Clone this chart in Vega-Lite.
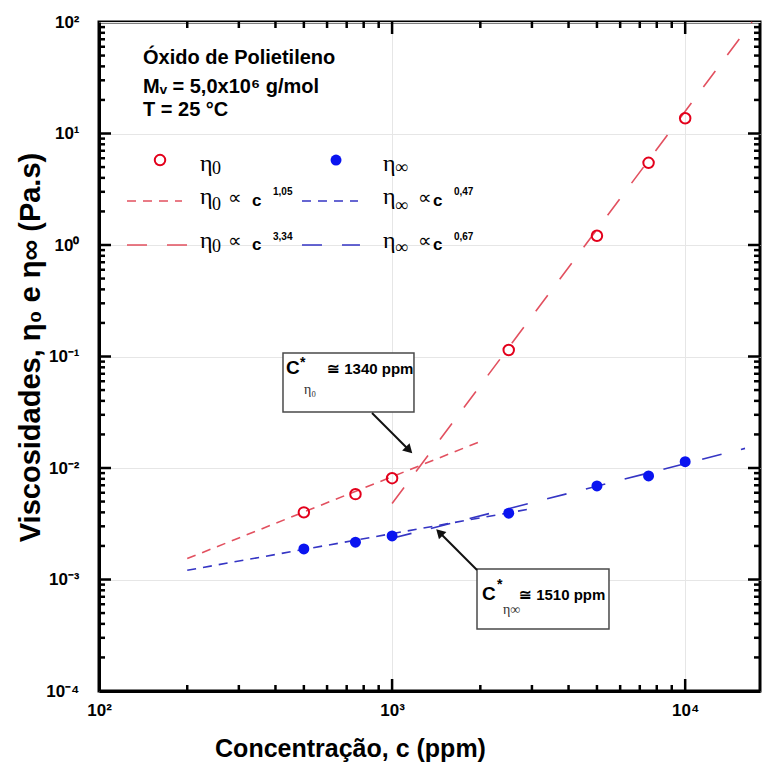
{
  "$schema": "https://vega.github.io/schema/vega-lite/v6.json",
  "autosize": {"type": "none"},
  "padding": {"left": 99, "top": 22, "right": 2, "bottom": 74},
  "width": 661,
  "height": 669,
  "background": "white",
  "config": {
    "view": {"stroke": "black", "strokeWidth": 3},
    "axis": {
      "domainColor": "black",
      "domainWidth": 3,
      "labelColor": "black",
      "labelFont": "Liberation Sans, Arial, sans-serif",
      "labelFontWeight": "bold",
      "labelFontSize": 17,
      "labelFlush": false,
      "labelOverlap": false,
      "labelBound": false,
      "titleColor": "black",
      "titleFontWeight": "bold",
      "gridColor": "#e6e6e6",
      "gridWidth": 1
    }
  },
  "datasets": {
    "pts": [
      {"c": 500, "eta": 0.0040, "series": "eta0"},
      {"c": 750, "eta": 0.00583, "series": "eta0"},
      {"c": 1000, "eta": 0.0081, "series": "eta0"},
      {"c": 2500, "eta": 0.1144, "series": "eta0"},
      {"c": 5000, "eta": 1.21, "series": "eta0"},
      {"c": 7500, "eta": 5.46, "series": "eta0"},
      {"c": 10000, "eta": 13.7, "series": "eta0"},
      {"c": 161.5, "eta": 5.78, "series": "eta0"},
      {"c": 500, "eta": 0.00188, "series": "etainf"},
      {"c": 750, "eta": 0.00216, "series": "etainf"},
      {"c": 1000, "eta": 0.00246, "series": "etainf"},
      {"c": 2500, "eta": 0.00393, "series": "etainf"},
      {"c": 5000, "eta": 0.0069, "series": "etainf"},
      {"c": 7500, "eta": 0.00848, "series": "etainf"},
      {"c": 10000, "eta": 0.0114, "series": "etainf"},
      {"c": 643.7, "eta": 5.78, "series": "etainf"}
    ],
    "lines": [
      {"x1": 200, "y1": 0.00154, "x2": 2000, "y2": 0.0173, "kind": "r105"},
      {"x1": 1000, "y1": 0.0048, "x2": 16900, "y2": 100, "kind": "r334"},
      {"x1": 200, "y1": 0.00121, "x2": 3000, "y2": 0.00432, "kind": "b047"},
      {"x1": 1000, "y1": 0.00234, "x2": 16000, "y2": 0.0150, "kind": "b067"},
      {"x1": 124.6, "y1": 2.48, "x2": 192, "y2": 2.48, "kind": "r105"},
      {"x1": 124.6, "y1": 1.0, "x2": 207.6, "y2": 1.0, "kind": "r334"},
      {"x1": 492.7, "y1": 2.48, "x2": 765, "y2": 2.48, "kind": "b047"},
      {"x1": 492.7, "y1": 1.0, "x2": 777, "y2": 1.0, "kind": "b067"}
    ],
    "xMajor": [{"v": 1000}, {"v": 10000}],
    "xMinor": [{"v": 200}, {"v": 300}, {"v": 400}, {"v": 500}, {"v": 600}, {"v": 700}, {"v": 800}, {"v": 900}, {"v": 2000}, {"v": 3000}, {"v": 4000}, {"v": 5000}, {"v": 6000}, {"v": 7000}, {"v": 8000}, {"v": 9000}],
    "yMajor": [{"v": 0.001}, {"v": 0.01}, {"v": 0.1}, {"v": 1}, {"v": 10}],
    "yMinor": [{"v": 0.0002}, {"v": 0.0003}, {"v": 0.0004}, {"v": 0.0005}, {"v": 0.0006}, {"v": 0.0007}, {"v": 0.0008}, {"v": 0.0009}, {"v": 0.002}, {"v": 0.003}, {"v": 0.004}, {"v": 0.005}, {"v": 0.006}, {"v": 0.007}, {"v": 0.008}, {"v": 0.009}, {"v": 0.02}, {"v": 0.03}, {"v": 0.04}, {"v": 0.05}, {"v": 0.06}, {"v": 0.07}, {"v": 0.08}, {"v": 0.09}, {"v": 0.2}, {"v": 0.3}, {"v": 0.4}, {"v": 0.5}, {"v": 0.6}, {"v": 0.7}, {"v": 0.8}, {"v": 0.9}, {"v": 2}, {"v": 3}, {"v": 4}, {"v": 5}, {"v": 6}, {"v": 7}, {"v": 8}, {"v": 9}, {"v": 20}, {"v": 30}, {"v": 40}, {"v": 50}, {"v": 60}, {"v": 70}, {"v": 80}, {"v": 90}],
    "texts": [
      {"x": 141.3, "y": 47.5, "text": "Óxido de Polietileno", "role": "info"},
      {"x": 141.3, "y": 26.1, "text": "Mᵥ = 5,0x10⁶ g/mol", "role": "info"},
      {"x": 141.3, "y": 16.2, "text": "T = 25 °C", "role": "info"},
      {"x": 221.1, "y": 5.34, "text": "η", "role": "legEta"},
      {"x": 931, "y": 5.34, "text": "η", "role": "legEta"},
      {"x": 221.1, "y": 2.695, "text": "η", "role": "legEta"},
      {"x": 221.1, "y": 1.086, "text": "η", "role": "legEta"},
      {"x": 931, "y": 2.695, "text": "η", "role": "legEta"},
      {"x": 931, "y": 1.086, "text": "η", "role": "legEta"},
      {"x": 243, "y": 4.85, "text": "0", "role": "legSub"},
      {"x": 243, "y": 2.284, "text": "0", "role": "legSub"},
      {"x": 243, "y": 0.95, "text": "0", "role": "legSub"},
      {"x": 1023, "y": 4.87, "text": "∞", "role": "legSub"},
      {"x": 1023, "y": 2.24, "text": "∞", "role": "legSub"},
      {"x": 1023, "y": 0.94, "text": "∞", "role": "legSub"},
      {"x": 275.5, "y": 2.64, "text": "∝", "role": "legProp"},
      {"x": 275.5, "y": 1.086, "text": "∝", "role": "legProp"},
      {"x": 1226, "y": 2.64, "text": "∝", "role": "legProp"},
      {"x": 1226, "y": 1.086, "text": "∝", "role": "legProp"},
      {"x": 332.7, "y": 2.48, "text": "c", "role": "legC"},
      {"x": 332.7, "y": 1.0, "text": "c", "role": "legC"},
      {"x": 1379, "y": 2.48, "text": "c", "role": "legC"},
      {"x": 1379, "y": 1.0, "text": "c", "role": "legC"},
      {"x": 392.4, "y": 2.99, "text": "1,05", "role": "legSup"},
      {"x": 392.4, "y": 1.19, "text": "3,34", "role": "legSup"},
      {"x": 1626, "y": 2.99, "text": "0,47", "role": "legSup"},
      {"x": 1626, "y": 1.19, "text": "0,67", "role": "legSup"},
      {"x": 434.5, "y": 0.0788, "text": "C", "role": "boxC"},
      {"x": 2026, "y": 0.000741, "text": "C", "role": "boxC"},
      {"x": 485, "y": 0.0874, "text": "*", "role": "boxStar"},
      {"x": 2280, "y": 0.000893, "text": "*", "role": "boxStar"},
      {"x": 500.6, "y": 0.0501, "text": "η₀", "role": "boxSub"},
      {"x": 2389, "y": 0.000533, "text": "η∞", "role": "boxSub"},
      {"x": 599.8, "y": 0.0772, "text": "≅ 1340 ppm", "role": "boxVal"},
      {"x": 2710, "y": 0.000726, "text": "≅ 1510 ppm", "role": "boxVal"}
    ],
    "boxes": [
      {"x1": 424.4, "x2": 1187.6, "y1": 0.1075, "y2": 0.0318},
      {"x1": 1948.6, "x2": 5496, "y1": 0.001242, "y2": 0.00036}
    ],
    "arrows": [
      {"x1": 854, "y1": 0.0311, "x2": 1133, "y2": 0.0148, "id": "a1"},
      {"x1": 1948.6, "y1": 0.001217, "x2": 1463, "y2": 0.002587, "id": "a2"}
    ]
  },
  "layer": [
    {
      "data": {"name": "lines"},
      "mark": {"type": "rule", "strokeWidth": 1.6},
      "encoding": {
        "x": {
          "field": "x1", "type": "quantitative",
          "scale": {"type": "log", "domain": [100, 18000], "nice": false},
          "axis": {
            "orient": "bottom",
            "values": [100, 1000, 10000],
            "labelExpr": "datum.value==100?'10²':datum.value==1000?'10³':'10⁴'",
            "ticks": false,
            "labelPadding": 11,
            "grid": true,
            "title": "Concentração, c (ppm)",
            "titleFontSize": 25,
            "titleX": 251,
            "titleY": 65,
            "titleAlign": "center",
            "titleBaseline": "alphabetic"
          }
        },
        "y": {
          "field": "y1", "type": "quantitative",
          "scale": {"type": "log", "domain": [0.0001, 100], "nice": false},
          "axis": {
            "orient": "left",
            "values": [0.0001, 0.001, 0.01, 0.1, 1, 10, 100],
            "labelExpr": "['10⁻⁴','10⁻³','10⁻²','10⁻¹','10⁰','10¹','10²'][round(log(datum.value)/LN10)+4]",
            "ticks": false,
            "labelPadding": 20,
            "grid": true,
            "title": "Viscosidades, η₀ e η∞ (Pa.s)",
            "titleFontSize": 29,
            "titleAngle": 270,
            "titleX": -69,
            "titleY": 325,
            "titleAlign": "center",
            "titleBaseline": "middle"
          }
        },
        "x2": {"field": "x2"},
        "y2": {"field": "y2"},
        "color": {
          "field": "kind", "type": "nominal", "legend": null,
          "scale": {"domain": ["r105", "r334", "b047", "b067"], "range": ["#e2505f", "#e2505f", "#3535c4", "#3535c4"]}
        },
        "strokeDash": {
          "field": "kind", "type": "nominal", "legend": null,
          "scale": {"domain": ["r105", "r334", "b047", "b067"], "range": [[9, 7], [20, 20], [9, 7], [20, 20]]}
        }
      }
    },
    {
      "data": {"name": "xMajor"},
      "mark": {"type": "rule", "color": "black", "strokeWidth": 2.5, "y2Offset": -12},
      "encoding": {
        "x": {"field": "v", "type": "quantitative"},
        "y": {"datum": 0.0001, "type": "quantitative"},
        "y2": {"datum": 0.0001}
      }
    },
    {
      "data": {"name": "xMinor"},
      "mark": {"type": "rule", "color": "black", "strokeWidth": 2.5, "y2Offset": -6},
      "encoding": {
        "x": {"field": "v", "type": "quantitative"},
        "y": {"datum": 0.0001, "type": "quantitative"},
        "y2": {"datum": 0.0001}
      }
    },
    {
      "data": {"name": "xMajor"},
      "mark": {"type": "rule", "color": "black", "strokeWidth": 2.5, "y2Offset": 12},
      "encoding": {
        "x": {"field": "v", "type": "quantitative"},
        "y": {"datum": 100, "type": "quantitative"},
        "y2": {"datum": 100}
      }
    },
    {
      "data": {"name": "xMinor"},
      "mark": {"type": "rule", "color": "black", "strokeWidth": 2.5, "y2Offset": 6},
      "encoding": {
        "x": {"field": "v", "type": "quantitative"},
        "y": {"datum": 100, "type": "quantitative"},
        "y2": {"datum": 100}
      }
    },
    {
      "data": {"name": "yMajor"},
      "mark": {"type": "rule", "color": "black", "strokeWidth": 2.5, "x2Offset": 12},
      "encoding": {
        "y": {"field": "v", "type": "quantitative"},
        "x": {"datum": 100, "type": "quantitative"},
        "x2": {"datum": 100}
      }
    },
    {
      "data": {"name": "yMinor"},
      "mark": {"type": "rule", "color": "black", "strokeWidth": 2.5, "x2Offset": 6},
      "encoding": {
        "y": {"field": "v", "type": "quantitative"},
        "x": {"datum": 100, "type": "quantitative"},
        "x2": {"datum": 100}
      }
    },
    {
      "data": {"name": "yMajor"},
      "mark": {"type": "rule", "color": "black", "strokeWidth": 2.5, "x2Offset": -12},
      "encoding": {
        "y": {"field": "v", "type": "quantitative"},
        "x": {"datum": 18000, "type": "quantitative"},
        "x2": {"datum": 18000}
      }
    },
    {
      "data": {"name": "yMinor"},
      "mark": {"type": "rule", "color": "black", "strokeWidth": 2.5, "x2Offset": -6},
      "encoding": {
        "y": {"field": "v", "type": "quantitative"},
        "x": {"datum": 18000, "type": "quantitative"},
        "x2": {"datum": 18000}
      }
    },
    {
      "data": {"name": "pts"},
      "transform": [{"filter": "datum.series=='eta0'"}],
      "mark": {"type": "point", "shape": "circle", "filled": false, "stroke": "#e3001b", "strokeWidth": 2, "size": 110, "opacity": 1},
      "encoding": {
        "x": {"field": "c", "type": "quantitative"},
        "y": {"field": "eta", "type": "quantitative"}
      }
    },
    {
      "data": {"name": "pts"},
      "transform": [{"filter": "datum.series=='etainf'"}],
      "mark": {"type": "point", "shape": "circle", "filled": true, "color": "#0a14f0", "size": 120, "opacity": 1},
      "encoding": {
        "x": {"field": "c", "type": "quantitative"},
        "y": {"field": "eta", "type": "quantitative"}
      }
    },
    {
      "data": {"name": "boxes"},
      "mark": {"type": "rect", "fill": "white", "stroke": "#4a4a4a", "strokeWidth": 1.5},
      "encoding": {
        "x": {"field": "x1", "type": "quantitative"},
        "x2": {"field": "x2"},
        "y": {"field": "y1", "type": "quantitative"},
        "y2": {"field": "y2"}
      }
    },
    {
      "data": {"name": "arrows"},
      "mark": {"type": "rule", "stroke": "#111111", "strokeWidth": 2},
      "encoding": {
        "x": {"field": "x1", "type": "quantitative"},
        "x2": {"field": "x2"},
        "y": {"field": "y1", "type": "quantitative"},
        "y2": {"field": "y2"}
      }
    },
    {
      "data": {"name": "arrows"},
      "transform": [{"filter": "datum.id=='a1'"}],
      "mark": {"type": "point", "shape": "triangle", "filled": true, "color": "#111111", "size": 110, "angle": 135, "opacity": 1},
      "encoding": {
        "x": {"field": "x2", "type": "quantitative"},
        "y": {"field": "y2", "type": "quantitative"}
      }
    },
    {
      "data": {"name": "arrows"},
      "transform": [{"filter": "datum.id=='a2'"}],
      "mark": {"type": "point", "shape": "triangle", "filled": true, "color": "#111111", "size": 110, "angle": 315, "opacity": 1},
      "encoding": {
        "x": {"field": "x2", "type": "quantitative"},
        "y": {"field": "y2", "type": "quantitative"}
      }
    },
    {
      "data": {"name": "texts"},
      "transform": [{"filter": "datum.role=='info'"}],
      "mark": {"type": "text", "align": "left", "baseline": "middle", "font": "Liberation Sans, Arial, sans-serif", "fontWeight": "bold", "fontSize": 20, "color": "black"},
      "encoding": {
        "x": {"field": "x", "type": "quantitative"},
        "y": {"field": "y", "type": "quantitative"},
        "text": {"field": "text"}
      }
    },
    {
      "data": {"name": "texts"},
      "transform": [{"filter": "datum.role=='legEta'"}],
      "mark": {"type": "text", "align": "left", "baseline": "middle", "font": "Liberation Serif, Times New Roman, serif", "fontSize": 24, "color": "black"},
      "encoding": {
        "x": {"field": "x", "type": "quantitative"},
        "y": {"field": "y", "type": "quantitative"},
        "text": {"field": "text"}
      }
    },
    {
      "data": {"name": "texts"},
      "transform": [{"filter": "datum.role=='legSub'"}],
      "mark": {"type": "text", "align": "left", "baseline": "middle", "font": "Liberation Serif, Times New Roman, serif", "fontSize": 18, "color": "black"},
      "encoding": {
        "x": {"field": "x", "type": "quantitative"},
        "y": {"field": "y", "type": "quantitative"},
        "text": {"field": "text"}
      }
    },
    {
      "data": {"name": "texts"},
      "transform": [{"filter": "datum.role=='legProp'"}],
      "mark": {"type": "text", "align": "left", "baseline": "middle", "font": "Liberation Serif, Times New Roman, serif", "fontSize": 19, "color": "black"},
      "encoding": {
        "x": {"field": "x", "type": "quantitative"},
        "y": {"field": "y", "type": "quantitative"},
        "text": {"field": "text"}
      }
    },
    {
      "data": {"name": "texts"},
      "transform": [{"filter": "datum.role=='legC'"}],
      "mark": {"type": "text", "align": "left", "baseline": "middle", "font": "Liberation Sans, Arial, sans-serif", "fontWeight": "bold", "fontSize": 17, "color": "black"},
      "encoding": {
        "x": {"field": "x", "type": "quantitative"},
        "y": {"field": "y", "type": "quantitative"},
        "text": {"field": "text"}
      }
    },
    {
      "data": {"name": "texts"},
      "transform": [{"filter": "datum.role=='legSup'"}],
      "mark": {"type": "text", "align": "left", "baseline": "middle", "font": "Liberation Sans, Arial, sans-serif", "fontWeight": "bold", "fontSize": 10, "color": "black"},
      "encoding": {
        "x": {"field": "x", "type": "quantitative"},
        "y": {"field": "y", "type": "quantitative"},
        "text": {"field": "text"}
      }
    },
    {
      "data": {"name": "texts"},
      "transform": [{"filter": "datum.role=='boxC'"}],
      "mark": {"type": "text", "align": "left", "baseline": "middle", "font": "Liberation Sans, Arial, sans-serif", "fontWeight": "bold", "fontSize": 19, "color": "black"},
      "encoding": {
        "x": {"field": "x", "type": "quantitative"},
        "y": {"field": "y", "type": "quantitative"},
        "text": {"field": "text"}
      }
    },
    {
      "data": {"name": "texts"},
      "transform": [{"filter": "datum.role=='boxStar'"}],
      "mark": {"type": "text", "align": "left", "baseline": "middle", "font": "Liberation Sans, Arial, sans-serif", "fontWeight": "bold", "fontSize": 14, "color": "black"},
      "encoding": {
        "x": {"field": "x", "type": "quantitative"},
        "y": {"field": "y", "type": "quantitative"},
        "text": {"field": "text"}
      }
    },
    {
      "data": {"name": "texts"},
      "transform": [{"filter": "datum.role=='boxSub'"}],
      "mark": {"type": "text", "align": "left", "baseline": "middle", "font": "Liberation Serif, Times New Roman, serif", "fontSize": 14, "color": "#333333"},
      "encoding": {
        "x": {"field": "x", "type": "quantitative"},
        "y": {"field": "y", "type": "quantitative"},
        "text": {"field": "text"}
      }
    },
    {
      "data": {"name": "texts"},
      "transform": [{"filter": "datum.role=='boxVal'"}],
      "mark": {"type": "text", "align": "left", "baseline": "middle", "font": "Liberation Sans, Arial, sans-serif", "fontWeight": "bold", "fontSize": 15, "color": "black"},
      "encoding": {
        "x": {"field": "x", "type": "quantitative"},
        "y": {"field": "y", "type": "quantitative"},
        "text": {"field": "text"}
      }
    }
  ]
}
